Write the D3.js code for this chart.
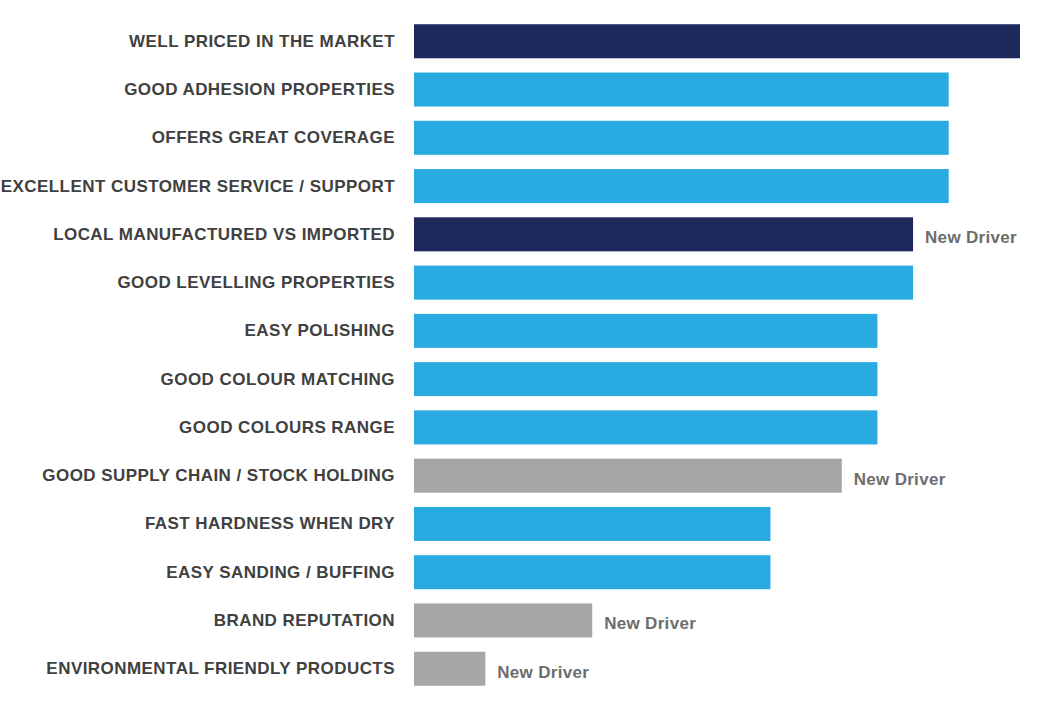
<!DOCTYPE html>
<html>
<head>
<meta charset="utf-8">
<script src="https://cdn.jsdelivr.net/npm/d3@7"></script>
<style>
  html, body { margin: 0; padding: 0; background: #ffffff; }
  svg { display: block; }
</style>
</head>
<body>
<div id="chart"></div>
<script>
// Drivers, top to bottom
const categories = [
    'WELL PRICED IN THE MARKET',
    'GOOD ADHESION PROPERTIES',
    'OFFERS GREAT COVERAGE',
    'EXCELLENT CUSTOMER SERVICE / SUPPORT',
    'LOCAL MANUFACTURED VS IMPORTED',
    'GOOD LEVELLING PROPERTIES',
    'EASY POLISHING',
    'GOOD COLOUR MATCHING',
    'GOOD COLOURS RANGE',
    'GOOD SUPPLY CHAIN / STOCK HOLDING',
    'FAST HARDNESS WHEN DRY',
    'EASY SANDING / BUFFING',
    'BRAND REPUTATION',
    'ENVIRONMENTAL FRIENDLY PRODUCTS'
];
const values = [17, 15, 15, 15, 14, 14, 13, 13, 13, 12, 10, 10, 5, 2];
// 'dark' = highlighted, 'light' = standard, 'grey' = new driver
const groups = ['dark', 'light', 'light', 'light', 'dark', 'light', 'light',
                'light', 'light', 'grey', 'light', 'light', 'grey', 'grey'];
const notes = ['', '', '', '', 'New Driver', '', '', '', '', 'New Driver', '', '', 'New Driver', 'New Driver'];

const width = 1063;
const height = 712;
const margin = { top: 17, right: 43, bottom: 19, left: 414 };

const colour = d3.scaleOrdinal()
    .domain(['dark', 'light', 'grey'])
    .range(['#1f285c', '#29abe2', '#a6a6a6']);

const svg = d3.select('#chart')
    .append('svg')
    .attr('width', width)
    .attr('height', height);

const x = d3.scaleLinear()
    .domain([0, 17])
    .range([margin.left, width - margin.right]);

const y = d3.scaleBand()
    .domain(categories)
    .range([margin.top, height - margin.bottom])
    .paddingInner(0.295)
    .paddingOuter(0.15);

const rows = categories.map((c, i) => ({ name: c, value: values[i], group: groups[i], note: notes[i] }));

// Bars
svg.append('g')
    .selectAll('rect')
    .data(rows)
    .join('rect')
    .attr('x', x(0))
    .attr('y', d => y(d.name))
    .attr('width', d => x(d.value) - x(0))
    .attr('height', y.bandwidth())
    .attr('fill', d => colour(d.group));

// Category labels (axis without line/ticks)
const axis = svg.append('g')
    .attr('transform', `translate(${x(0)},0)`)
    .call(d3.axisLeft(y).tickSize(0).tickPadding(19));
axis.select('.domain').remove();
axis.selectAll('text')
    .style('font-family', '"Liberation Sans", Arial, sans-serif')
    .style('font-size', '17px')
    .style('font-weight', 'bold')
    .style('letter-spacing', '0.45px')
    .style('fill', '#404040');

// "New Driver" notes
svg.append('g')
    .selectAll('text')
    .data(rows.filter(d => d.note))
    .join('text')
    .attr('x', d => x(d.value) + 12)
    .attr('y', d => y(d.name) + y.bandwidth() / 2 + 9)
    .style('font-family', '"Liberation Sans", Arial, sans-serif')
    .style('font-size', '17px')
    .style('font-weight', 'bold')
    .style('letter-spacing', '0.3px')
    .style('fill', '#6d6d6d')
    .text(d => d.note);
</script>
</body>
</html>
